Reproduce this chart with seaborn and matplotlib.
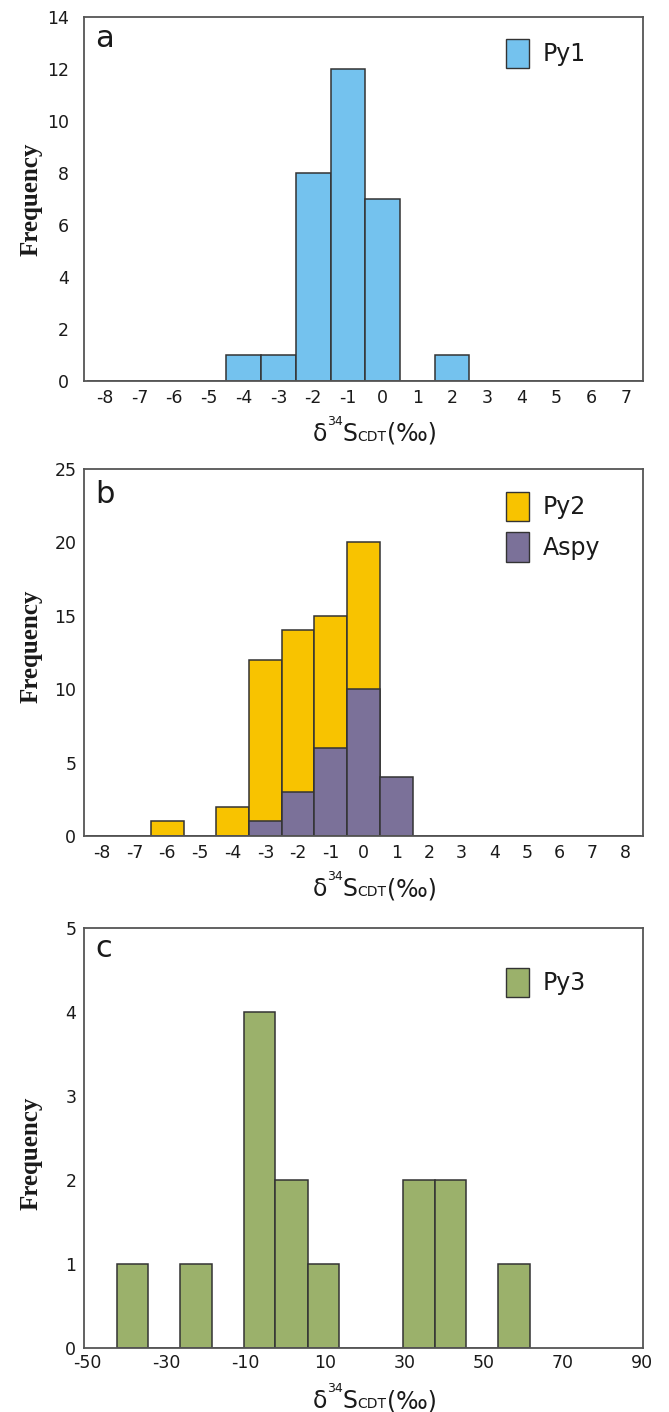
import numpy as np
import matplotlib
matplotlib.use("Agg")
import matplotlib.pyplot as plt
from matplotlib.patches import Patch
import seaborn as sns

# ---------------- data ----------------
# panel a : Py1 (bin centres in permil, counts)
py1_centers = [-4, -3, -2, -1, 0, 2]
py1_counts = [1, 1, 8, 12, 7, 1]

# panel b : Py2 and Aspy
py2_centers = [-6, -4, -3, -2, -1, 0]
py2_counts = [1, 2, 12, 14, 15, 20]
aspy_centers = [-3, -2, -1, 0, 1]
aspy_counts = [1, 3, 6, 10, 4]

# panel c : Py3
py3_bin_edges = [-42.6, -34.6, -26.5, -18.5, -10.5, -2.5, 5.6, 13.6,
                 21.6, 29.7, 37.7, 45.7, 53.7, 61.8]
py3_centers = [-38.6, -22.5, -6.5, 1.5, 9.6, 33.7, 41.7, 57.7]
py3_counts = [1, 1, 4, 2, 1, 2, 2, 1]

xticks_a = list(range(-8, 8))
xticks_b = list(range(-8, 9))
xticks_c = [-50, -30, -10, 10, 30, 50, 70, 90]
yticks_a = [0, 2, 4, 6, 8, 10, 12, 14]
yticks_b = [0, 5, 10, 15, 20, 25]
yticks_c = [0, 1, 2, 3, 4, 5]

# ---------------- style ----------------
sns.set_theme(style="white")
plt.rcParams["font.family"] = ["DejaVu Sans"]

C_PY1 = "#74C2EE"
C_PY2 = "#F8C300"
C_ASPY = "#7B7199"
C_PY3 = "#9BB16B"
EDGE = "#333333"
SPINE = "#555555"
TXT = "#1a1a1a"

W_PX, H_PX = 669, 1412
fig = plt.figure(figsize=(W_PX / 100, H_PX / 100), dpi=100)


def axes_px(left, top, right, bottom):
    return fig.add_axes([left / W_PX, 1 - bottom / H_PX,
                         (right - left) / W_PX, (bottom - top) / H_PX])


ax_a = axes_px(84, 17, 643, 381)
ax_b = axes_px(84, 469, 643, 836)
ax_c = axes_px(84, 928, 643, 1348)

edges_ab = [float(v) for v in np.arange(-8.5, 9.0, 1.0)]

sns.histplot(x=py1_centers, weights=py1_counts, bins=edges_ab, ax=ax_a,
             color=C_PY1, alpha=1, edgecolor=EDGE, linewidth=1.1)
sns.histplot(x=py2_centers, weights=py2_counts, bins=edges_ab, ax=ax_b,
             color=C_PY2, alpha=1, edgecolor=EDGE, linewidth=1.1)
sns.histplot(x=aspy_centers, weights=aspy_counts, bins=edges_ab, ax=ax_b,
             color=C_ASPY, alpha=1, edgecolor=EDGE, linewidth=1.1)
sns.histplot(x=py3_centers, weights=py3_counts, bins=list(py3_bin_edges), ax=ax_c,
             color=C_PY3, alpha=1, edgecolor=EDGE, linewidth=1.1)

configs = [
    (ax_a, (-8.6, 7.5), xticks_a, (0, 14), yticks_a, 11, 6, "a", 0.918, 0.5,
     [("Py1", C_PY1)], 0.9396),
    (ax_b, (-8.55, 8.55), xticks_b, (0, 25), yticks_b, 5.5, 5.5, "b", 0.907, 0.516,
     [("Py2", C_PY2), ("Aspy", C_ASPY)], 0.9373),
    (ax_c, (-50.85, 90.3), xticks_c, (0, 5), yticks_c, 5.5, 4, "c", 0.931, 0.463,
     [("Py3", C_PY3)], 0.905),
]

for ax, xl, xt, yl, yt, ypad, xpad, letter, ly, ylab_y, leg, legy in configs:
    ax.set_xlim(*xl)
    ax.set_ylim(*yl)
    ax.set_xticks(xt)
    ax.set_xticklabels([str(v) for v in xt])
    ax.set_yticks(yt)
    ax.set_yticklabels([str(v) for v in yt])
    ax.tick_params(axis="both", length=0, labelsize=12.5, colors=TXT)
    ax.tick_params(axis="y", pad=ypad)
    ax.tick_params(axis="x", pad=xpad)
    for s in ax.spines.values():
        s.set_visible(True)
        s.set_color(SPINE)
        s.set_linewidth(1.3)
    ax.set_xlabel("")
    ax.set_ylabel("Frequency", fontfamily="Liberation Serif",
                  fontweight="bold", fontsize=18, color=TXT)
    ax.yaxis.set_label_coords(-0.075, ylab_y)
    ax.text(0.02, ly, letter, transform=ax.transAxes, fontsize=22,
            ha="left", va="baseline", color=TXT)
    handles = [Patch(facecolor=c, edgecolor=EDGE, linewidth=1, label=l)
               for l, c in leg]
    ax.legend(handles=handles, loc="upper left", bbox_to_anchor=(0.755, legy),
              frameon=False, fontsize=17, handlelength=0.97, handleheight=1.53,
              handletextpad=0.6, labelspacing=0.47, borderpad=0,
              borderaxespad=0, labelcolor=TXT)


def rich_xlabel(ax, below_px=60, shift_px=11):
    r = fig.canvas.get_renderer()
    pieces = [("δ", 17, 0), ("34", 9, 16), ("S", 17, 0), ("CDT", 10, 0),
              ("(‰)", 17, 0)]
    texts = []
    for s, size, dy in pieces:
        t = fig.text(0, 0, s, fontsize=size, ha="left", va="baseline",
                     color=TXT)
        texts.append((t, dy))
    widths = [t.get_window_extent(r).width for t, _ in texts]
    bb = ax.get_window_extent(r)
    x = (bb.x0 + bb.x1) / 2 - sum(widths) / 2 + shift_px
    yb = bb.y0 - below_px
    for (t, dy), w in zip(texts, widths):
        t.set_position((x / fig.bbox.width, (yb + dy) / fig.bbox.height))
        x += w


fig.canvas.draw()
for ax in (ax_a, ax_b, ax_c):
    rich_xlabel(ax)

fig.savefig("out.png", dpi=100)
